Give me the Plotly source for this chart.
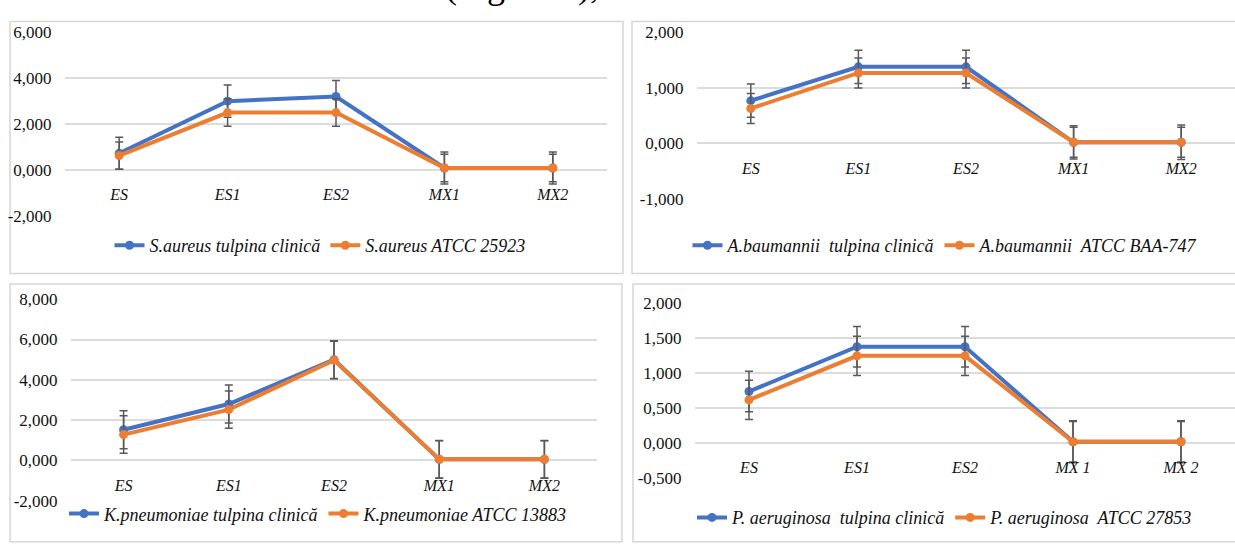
import plotly.graph_objects as go

W, H = 1235, 548

# ---- data -------------------------------------------------------------
CATS = ["ES", "ES1", "ES2", "MX1", "MX2"]
CATS_PA = ["ES", "ES1", "ES2", "MX 1", "MX 2"]

# S. aureus
SA_CLIN = [0.72, 3.00, 3.20, 0.08, 0.08]
SA_CLIN_ERR = [0.70, 0.70, 0.70, 0.70, 0.70]
SA_ATCC = [0.62, 2.50, 2.50, 0.08, 0.08]
SA_ATCC_ERR = [0.60, 0.60, 0.60, 0.60, 0.60]
SA_TICKS = [-2, 0, 2, 4, 6]
SA_TICKTEXT = ["-2,000", "0,000", "2,000", "4,000", "6,000"]

# A. baumannii
AB_CLIN = [0.77, 1.38, 1.38, 0.02, 0.02]
AB_CLIN_ERR = [0.30, 0.30, 0.30, 0.30, 0.31]
AB_ATCC = [0.63, 1.27, 1.27, 0.02, 0.02]
AB_ATCC_ERR = [0.27, 0.27, 0.27, 0.27, 0.27]
AB_TICKS = [-1, 0, 1, 2]
AB_TICKTEXT = ["-1,000", "0,000", "1,000", "2,000"]

# K. pneumoniae
KP_CLIN = [1.52, 2.80, 5.00, 0.05, 0.05]
KP_CLIN_ERR = [0.94, 0.94, 0.94, 0.94, 0.94]
KP_ATCC = [1.28, 2.52, 4.98, 0.05, 0.05]
KP_ATCC_ERR = [0.93, 0.93, 0.93, 0.93, 0.93]
KP_TICKS = [-2, 0, 2, 4, 6, 8]
KP_TICKTEXT = ["-2,000", "0,000", "2,000", "4,000", "6,000", "8,000"]

# P. aeruginosa
PA_CLIN = [0.74, 1.38, 1.38, 0.02, 0.02]
PA_CLIN_ERR = [0.29, 0.29, 0.29, 0.30, 0.30]
PA_ATCC = [0.62, 1.25, 1.25, 0.02, 0.02]
PA_ATCC_ERR = [0.28, 0.28, 0.28, 0.29, 0.29]
PA_TICKS = [-0.5, 0, 0.5, 1, 1.5, 2]
PA_TICKTEXT = ["-0,500", "0,000", "0,500", "1,000", "1,500", "2,000"]

# ---- styling ----------------------------------------------------------
SERIF = "Liberation Serif"
TXT = "#111111"
BLUE = "#4472C4"
ORANGE = "#ED7D31"
ERRC = "#595959"
GRID = "#dcdcdc"
BORDER = "#d6d6d6"


def px(x):
    return x / W


def py(y):
    return 1 - y / H


panels = [
    dict(cats=CATS, clin=SA_CLIN, clin_err=SA_CLIN_ERR, atcc=SA_ATCC, atcc_err=SA_ATCC_ERR,
         ticks=SA_TICKS, ticktext=SA_TICKTEXT,
         names=["S.aureus tulpina clinică", "S.aureus ATCC 25923"],
         plot=(65, 24.3, 607, 214), box=(10, 13, 623, 274), leg=(320, 245)),
    dict(cats=CATS, clin=AB_CLIN, clin_err=AB_CLIN_ERR, atcc=AB_ATCC, atcc_err=AB_ATCC_ERR,
         ticks=AB_TICKS, ticktext=AB_TICKTEXT,
         names=["A.baumannii\u00a0 tulpina clinică", "A.baumannii\u00a0 ATCC BAA-747"],
         plot=(697, 24.3, 1235, 196.7), box=(632, 13, 1250, 274), leg=(945, 245)),
    dict(cats=CATS, clin=KP_CLIN, clin_err=KP_CLIN_ERR, atcc=KP_ATCC, atcc_err=KP_ATCC_ERR,
         ticks=KP_TICKS, ticktext=KP_TICKTEXT,
         names=["K.pneumoniae tulpina clinică", "K.pneumoniae ATCC 13883"],
         plot=(71, 300.7, 597, 509.3), box=(10, 285, 622, 552), leg=(318, 523)),
    dict(cats=CATS_PA, clin=PA_CLIN, clin_err=PA_CLIN_ERR, atcc=PA_ATCC, atcc_err=PA_ATCC_ERR,
         ticks=PA_TICKS, ticktext=PA_TICKTEXT,
         names=["P. aeruginosa\u00a0 tulpina clinică", "P. aeruginosa\u00a0 ATCC 27853"],
         plot=(695, 305, 1235, 486), box=(633, 285, 1250, 552), leg=(945, 527)),
]

fig = go.Figure()
layout = {}
shapes = []

for i, p in enumerate(panels, start=1):
    sfx = "" if i == 1 else str(i)
    xname, yname = "x" + sfx, "y" + sfx
    legname = "legend" + sfx
    x0, y0, x1, y1 = p["plot"]
    ymin, ymax = p["ticks"][0], p["ticks"][-1]
    dom_y = [py(y1), py(y0)]
    # category axis sits on the zero line of the value axis
    zero_pos = dom_y[0] + (0 - ymin) / (ymax - ymin) * (dom_y[1] - dom_y[0])

    layout["xaxis" + sfx] = dict(
        domain=[px(x0), min(px(x1), 1.0)], anchor="free", position=zero_pos,
        type="category", range=[-0.5, len(p["cats"]) - 0.5],
        showgrid=False, zeroline=False, showline=False,
        ticks="outside", ticklen=10, tickcolor="rgba(0,0,0,0)",
        tickfont=dict(family=SERIF, size=16, style="italic", color=TXT),
        fixedrange=True,
    )
    layout["yaxis" + sfx] = dict(
        domain=dom_y, anchor=xname, range=[ymin, ymax],
        tickmode="array", tickvals=p["ticks"], ticktext=p["ticktext"],
        showgrid=True, gridcolor=GRID, gridwidth=1.5,
        zeroline=False, showline=False,
        ticks="outside", ticklen=9, tickcolor="rgba(0,0,0,0)",
        tickfont=dict(family=SERIF, size=17, color=TXT),
        fixedrange=True,
    )
    lx, ly = p["leg"]
    layout[legname] = dict(
        orientation="h", x=px(lx), xanchor="center", y=py(ly), yanchor="middle",
        bgcolor="rgba(0,0,0,0)", borderwidth=0, traceorder="normal",
        font=dict(family=SERIF, size=18, style="italic", color=TXT),
        itemwidth=30, itemclick=False, itemdoubleclick=False,
    )

    for vals, errs, color, name in ((p["clin"], p["clin_err"], BLUE, p["names"][0]),
                                    (p["atcc"], p["atcc_err"], ORANGE, p["names"][1])):
        fig.add_trace(go.Scatter(
            x=p["cats"], y=vals, name=name, mode="lines+markers",
            line=dict(color=color, width=4),
            marker=dict(color=color, size=9, symbol="circle"),
            error_y=dict(type="data", array=errs, symmetric=True,
                         color=ERRC, thickness=1.5, width=4),
            xaxis=xname, yaxis=yname, legend=legname, cliponaxis=False,
        ))

    bx0, by0, bx1, by1 = p["box"]
    shapes.append(dict(type="rect", xref="paper", yref="paper",
                       x0=px(bx0), x1=px(bx1), y0=py(by1), y1=py(by0),
                       line=dict(color=BORDER, width=1.5), fillcolor="rgba(0,0,0,0)",
                       layer="below"))

fig.update_layout(
    **layout,
    shapes=shapes,
    width=W, height=H, autosize=False,
    margin=dict(l=0, r=0, t=0, b=0, pad=0),
    paper_bgcolor="white", plot_bgcolor="rgba(0,0,0,0)",
    font=dict(family=SERIF, color=TXT),
    showlegend=True,
    # tail end of the running text line above the figure block
    annotations=[dict(
        text="(Figura 3),", xref="paper", yref="paper",
        x=px(443), y=1, xanchor="left", yanchor="middle", yshift=23,
        showarrow=False, font=dict(family=SERIF, size=36, color="#000000"),
    )],
)

fig.write_html("out.html")
